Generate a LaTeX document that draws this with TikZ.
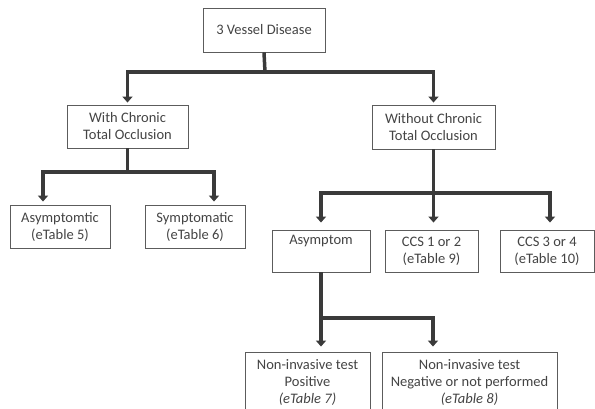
\documentclass[tikz,border=0pt]{standalone}
\usepackage{fontspec}
\setmainfont{Carlito}
\usetikzlibrary{arrows.meta}
\definecolor{txt}{HTML}{444444}
\definecolor{brd}{HTML}{5C5C5C}
\definecolor{con}{HTML}{3A3A3A}
\begin{document}
\begin{tikzpicture}[x=1pt,y=-1pt,
  box/.style={draw=brd, line width=0.9pt, text=txt, align=center, inner sep=0pt,
    font=\fontsize{14.5}{17}\selectfont},
  conn/.style={draw=con, line width=3.5pt},
  arr/.style={conn, -{Triangle[width=10pt,length=6pt]}}]
\fill[white] (0,0) rectangle (595,408);
\useasboundingbox (0,0) rectangle (595,408);

\node[box, minimum width=122pt, minimum height=44pt] (top) at (264,30) {3 Vessel Disease};
\node[box, minimum width=121pt, minimum height=43pt] (with) at (127.5,126.5) {With Chronic\\Total Occlusion};
\node[box, minimum width=123pt, minimum height=44pt] (without) at (433.5,127) {Without Chronic\\Total Occlusion};
\node[box, minimum width=100pt, minimum height=43pt] (asy) at (60,226.5) {Asymptomtic\\(eTable 5)};
\node[box, minimum width=100pt, minimum height=43pt] (sym) at (195,226.5) {Symptomatic\\(eTable 6)};
\node[box, minimum width=98pt, minimum height=42pt] (asym) at (321,251) {Asymptom\\\strut};
\node[box, minimum width=93pt, minimum height=42pt] (ccsa) at (431.5,251) {CCS 1 or 2\\(eTable 9)};
\node[box, minimum width=94pt, minimum height=42pt] (ccsb) at (547,251) {CCS 3 or 4\\(eTable 10)};
\node[box, minimum width=125pt, minimum height=62pt] (pos) at (307.5,383) {Non-invasive test\\Positive\\\textit{(eTable 7)}};
\node[box, minimum width=175pt, minimum height=62pt] (neg) at (469.5,383) {Non-invasive test\\Negative or not performed\\\textit{(eTable 8)}};

% level 1
\coordinate (j1) at (265,72);
\draw[conn] (top.south) -- (j1);
\draw[arr, shorten >=2pt] (j1) -| (with.north);
\draw[arr, shorten >=2pt] (j1) -| (without.north);

% level 2 left
\coordinate (j2) at (127.5,172);
\draw[conn] (with.south) -- (j2);
\draw[arr, shorten >=3pt] (j2) -| ([xshift=-17pt]asy.north);
\draw[arr, shorten >=3pt] (j2) -| ([xshift=19pt]sym.north);

% level 2 right
\coordinate (j3) at (433.5,193);
\draw[conn] (without.south) -- (j3);
\draw[arr, shorten >=7pt] (j3) -| (asym.north);
\draw[arr, shorten >=7pt] (j3) -- (ccsa.north -| j3);
\draw[arr, shorten >=7pt] (j3) -| ([xshift=3pt]ccsb.north);

% level 3
\coordinate (j4) at (321,318);
\draw[arr, shorten >=5pt] (asym.south) -- ([xshift=13.5pt]pos.north);
\draw[arr, shorten >=5pt] (j4) -| ([xshift=-36.5pt]neg.north);
\end{tikzpicture}
\end{document}
